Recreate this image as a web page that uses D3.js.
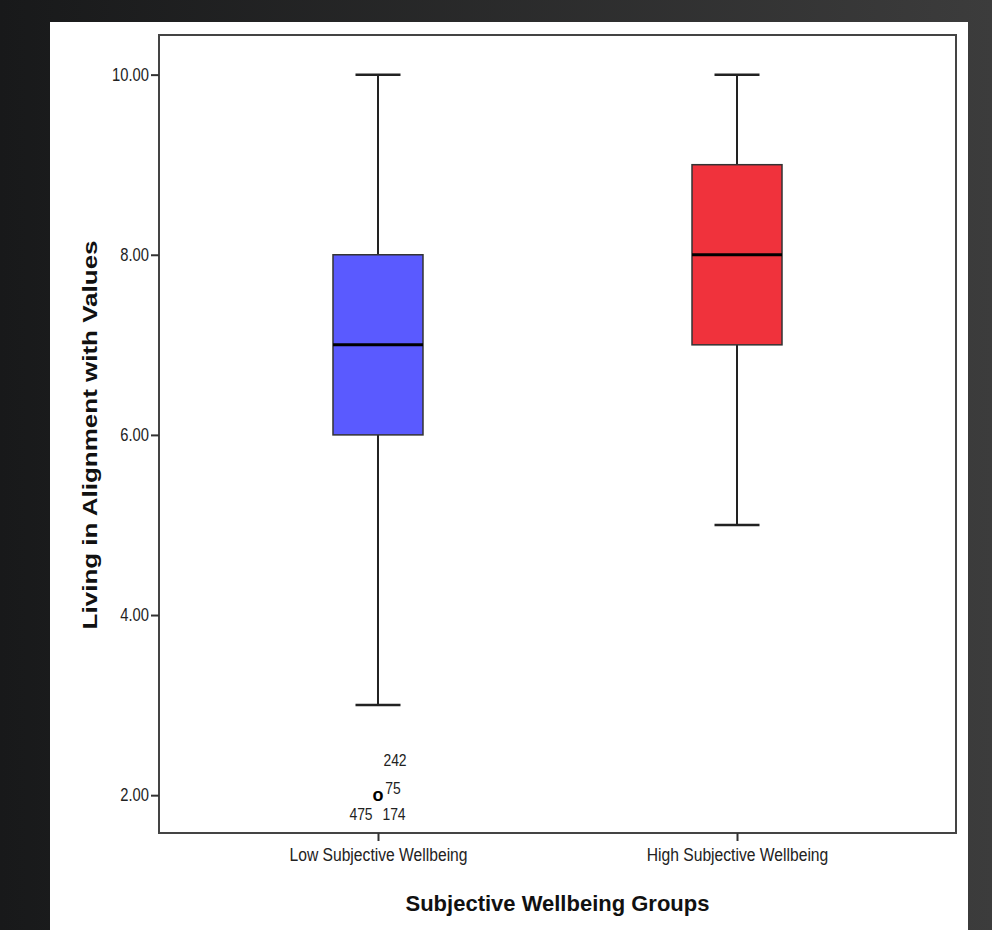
<!DOCTYPE html>
<meta charset="utf-8">
<style>
body { margin: 0; background: #222; }
svg { display: block; }
.axis text { font-family: "Liberation Sans", Arial, sans-serif; fill: #222; }
.axis path, .axis line { stroke: #333; stroke-width: 2; }
.title { font: bold 22px "Liberation Sans", Arial, sans-serif; fill: #111; }
.obs { font: 17px "Liberation Sans", Arial, sans-serif; fill: #222; }
</style>
<body>
<script src="https://cdn.jsdelivr.net/npm/d3@7"></script>
<script>
// group names and five-number summaries
var groups = ["Low Subjective Wellbeing", "High Subjective Wellbeing"];
var mins    = [3, 5];
var q1s     = [6, 7];
var medians = [7, 8];
var q3s     = [8, 9];
var maxs    = [10, 10];
var colors  = ["#5a5aff", "#f0323c"];

// outliers (value, case id)
var outlierGroup = groups[0];
var outlierValue = 2;
var outlierIds   = ["242", "75", "475", "174"];

var yTicks = [2, 4, 6, 8, 10];

var W = 992, H = 930;
var margin = {top: 35, right: 36, bottom: 97, left: 159},
    width = W - margin.left - margin.right,
    height = H - margin.top - margin.bottom;

// the source picture is stretched vertically, so text is squeezed sideways
var sq = 0.82;

var svg = d3.select("body").append("svg")
    .attr("width", W)
    .attr("height", H);

// dark backdrop + white panel
var grad = svg.append("defs").append("linearGradient")
    .attr("id", "bg").attr("x1", 0).attr("x2", 1).attr("y1", 0).attr("y2", 0);
grad.append("stop").attr("offset", "0%").attr("stop-color", "#18191a");
grad.append("stop").attr("offset", "100%").attr("stop-color", "#3c3c3c");
svg.append("rect").attr("width", W).attr("height", H).attr("fill", "url(#bg)");
svg.append("rect").attr("x", 50).attr("y", 22).attr("width", 918).attr("height", H - 22).attr("fill", "#fff");

var g = svg.append("g")
    .attr("transform", "translate(" + margin.left + "," + margin.top + ")");

var x = d3.scalePoint()
    .domain(groups)
    .range([0, width])
    .padding(0.61);

var y = d3.scaleLinear()
    .domain([1.58, 10.44])
    .range([height, 0]);

// frame
g.append("rect")
    .attr("width", width).attr("height", height)
    .attr("fill", "none").attr("stroke", "#444").attr("stroke-width", 2);

g.append("g")
    .attr("class", "axis")
    .call(d3.axisLeft(y).tickValues(yTicks).tickSize(8).tickPadding(2).tickFormat(d3.format(".2f")))
    .call(function(s) {
      s.select(".domain").remove();
      s.selectAll(".tick text")
          .style("font-size", "18px")
          .attr("x", -10 / sq)
          .attr("transform", "scale(" + sq + ",1)");
    });

g.append("g")
    .attr("class", "axis")
    .attr("transform", "translate(0," + height + ")")
    .call(d3.axisBottom(x).tickSize(8).tickPadding(7))
    .call(function(s) {
      s.select(".domain").remove();
      s.selectAll(".tick text")
          .style("font-size", "18px")
          .attr("transform", "scale(0.87,1)");
    });

var boxW = 90, capW = 45;
var data = groups.map(function(name, i) {
  return {name: name, min: mins[i], q1: q1s[i], med: medians[i], q3: q3s[i], max: maxs[i], color: colors[i]};
});

var box = g.selectAll(".box")
    .data(data)
  .enter().append("g")
    .attr("class", "box")
    .attr("transform", function(d) { return "translate(" + x(d.name) + ",0)"; });

// whiskers
box.append("line")
    .attr("y1", function(d) { return y(d.max); })
    .attr("y2", function(d) { return y(d.q3); })
    .attr("stroke", "#222").attr("stroke-width", 2);
box.append("line")
    .attr("y1", function(d) { return y(d.q1); })
    .attr("y2", function(d) { return y(d.min); })
    .attr("stroke", "#222").attr("stroke-width", 2);
box.append("line")
    .attr("x1", -capW / 2).attr("x2", capW / 2)
    .attr("y1", function(d) { return y(d.max); })
    .attr("y2", function(d) { return y(d.max); })
    .attr("stroke", "#222").attr("stroke-width", 2.5);
box.append("line")
    .attr("x1", -capW / 2).attr("x2", capW / 2)
    .attr("y1", function(d) { return y(d.min); })
    .attr("y2", function(d) { return y(d.min); })
    .attr("stroke", "#222").attr("stroke-width", 2.5);

box.append("rect")
    .attr("x", -boxW / 2).attr("width", boxW)
    .attr("y", function(d) { return y(d.q3); })
    .attr("height", function(d) { return y(d.q1) - y(d.q3); })
    .attr("fill", function(d) { return d.color; })
    .attr("stroke", "#333").attr("stroke-width", 1.5);

box.append("line")
    .attr("x1", -boxW / 2).attr("x2", boxW / 2)
    .attr("y1", function(d) { return y(d.med); })
    .attr("y2", function(d) { return y(d.med); })
    .attr("stroke", "#000").attr("stroke-width", 3);

// outlier marker and case labels
var ox = x(outlierGroup), oy = y(outlierValue);
g.append("text")
    .attr("x", ox).attr("y", oy + 6)
    .attr("text-anchor", "middle")
    .style("font", "bold 18px 'Liberation Sans', Arial, sans-serif")
    .text("o");
var lab = [
  {t: outlierIds[0], dx: 17, dy: -29},
  {t: outlierIds[1], dx: 15, dy: -1},
  {t: outlierIds[2], dx: -17, dy: 25},
  {t: outlierIds[3], dx: 16, dy: 25}
];
g.selectAll(".obs")
    .data(lab)
  .enter().append("text")
    .attr("class", "obs")
    .attr("text-anchor", "middle")
    .attr("transform", function(d) { return "translate(" + (ox + d.dx) + "," + (oy + d.dy) + ") scale(" + sq + ",1)"; })
    .text(function(d) { return d.t; });

// axis titles
svg.append("text")
    .attr("class", "title")
    .attr("text-anchor", "middle")
    .attr("x", margin.left + width / 2)
    .attr("y", 911)
    .text("Subjective Wellbeing Groups");

svg.append("text")
    .attr("class", "title")
    .attr("text-anchor", "middle")
    .attr("transform", "translate(97," + (margin.top + y(6)) + ") rotate(-90) scale(1.3,1)")
    .style("font-size", "20px")
    .text("Living in Alignment with Values");
</script>
</body>
